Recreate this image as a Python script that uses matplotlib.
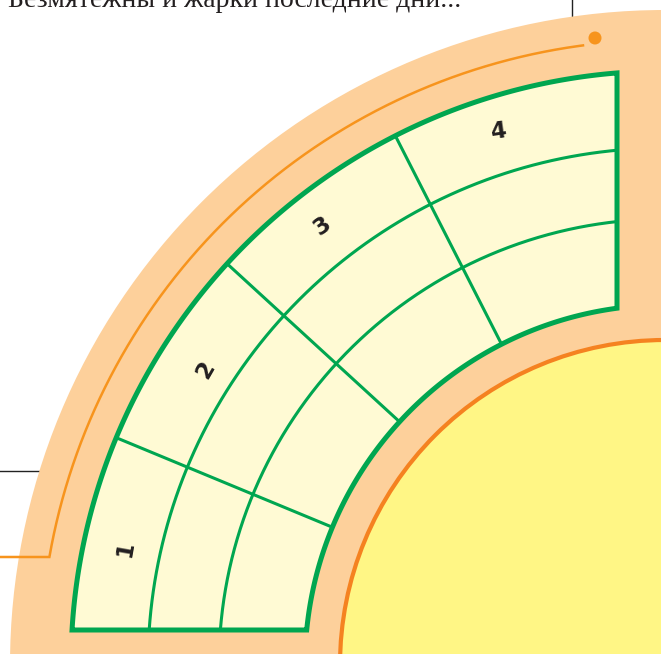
import numpy as np
import matplotlib
matplotlib.use("Agg")
import matplotlib.pyplot as plt
from matplotlib.patches import Circle, Polygon, Rectangle

# ---- data (pixel-space geometry of the diagram) ----
center = (665, 665)
peach_radius = 655
orange_track_radius = 625
yellow_radius = 325
ring_radii = [594, 517, 446, 360]        # outer, two middle, inner
band_right_x = 617
band_bottom_y = 630
divider_angles = [22.5, 42.5, 63.0]      # degrees from leftward horizontal
labels = ["1", "2", "3", "4"]
label_angles = [12.1, 32.7, 52.0, 72.7]
label_radii = [552, 546, 557, 559]
label_rotations = [80, 60, 35, 8]
caption = "Безмятежны и жарки последние дни..."

GREEN = "#00A650"
PEACH = "#FDD09B"
CREAM = "#FFFAD4"
YELLOW = "#FFF685"
ORANGE = "#F7941D"
ORANGE2 = "#F58220"

fig = plt.figure(figsize=(6.68, 6.54), dpi=100)
ax = fig.add_axes([0, 0, 1, 1])
ax.set_xlim(0, 668)
ax.set_ylim(654, 0)
ax.axis("off")

cx, cy = center
clip = Rectangle((0, 0), 661, 654, transform=ax.transData)

def pt(r, ang):
    a = np.deg2rad(ang)
    return cx - r * np.cos(a), cy - r * np.sin(a)

# black guide lines
ax.plot([572, 572], [0, 20], color="#222222", lw=1.0, zorder=1)
ax.plot([0, 40], [471, 471], color="#222222", lw=1.0, zorder=1)

# peach disk
peach = Circle(center, peach_radius, facecolor=PEACH, edgecolor="none", zorder=2)
ax.add_patch(peach)
peach.set_clip_path(clip)

# orange track line
a0 = np.rad2deg(np.arcsin((cy - 557) / orange_track_radius))
a1 = np.rad2deg(np.arccos((cx - 583) / orange_track_radius))
ang = np.linspace(a0, a1, 200)
xs, ys = pt(orange_track_radius, ang)
ax.plot(np.r_[0, xs], np.r_[557, ys], color=ORANGE, lw=1.8, zorder=3,
        solid_joinstyle="miter")
ax.add_patch(Circle((595, 38), 6.5, facecolor=ORANGE, edgecolor="none", zorder=3))

# yellow disk
yel = Circle(center, yellow_radius, facecolor=YELLOW, edgecolor=ORANGE2, lw=3, zorder=3)
ax.add_patch(yel)
yel.set_clip_path(clip)

# band polygon
def arc_between(r):
    # from bottom line y=band_bottom_y to right line x=band_right_x
    a_start = np.rad2deg(np.arcsin((cy - band_bottom_y) / r))
    a_end = np.rad2deg(np.arccos((cx - band_right_x) / r))
    return np.linspace(a_start, a_end, 300)

ro, ri = ring_radii[0], ring_radii[-1]
xo, yo = pt(ro, arc_between(ro))
xi, yi = pt(ri, arc_between(ri))
verts = np.c_[np.r_[xo, xi[::-1]], np.r_[yo, yi[::-1]]]
ax.add_patch(Polygon(verts, closed=True, facecolor=CREAM, edgecolor="none", zorder=4))

# middle arcs
for r in ring_radii[1:-1]:
    x, y = pt(r, arc_between(r))
    ax.plot(x, y, color=GREEN, lw=2.2, zorder=5)

# dividers
for d in divider_angles:
    x0, y0 = pt(ri, d)
    x1, y1 = pt(ro, d)
    ax.plot([x0, x1], [y0, y1], color=GREEN, lw=2.2, zorder=5)

# band outline
ax.add_patch(Polygon(verts, closed=True, facecolor="none", edgecolor=GREEN,
                     lw=3.6, zorder=6, joinstyle="miter"))

# labels
for lab, a, r, rot in zip(labels, label_angles, label_radii, label_rotations):
    x, y = pt(r, a)
    ax.text(x, y, lab, fontsize=16.5, fontweight="bold", color="#231F20",
            rotation=rot, ha="center", va="center", zorder=7,
            rotation_mode="anchor")

# caption (cut off at top, as in the source page)
ax.text(8, 7, caption, fontsize=20, family="Liberation Serif", color="#231F20",
        ha="left", va="baseline", zorder=7)

fig.savefig("out.png", dpi=100)
